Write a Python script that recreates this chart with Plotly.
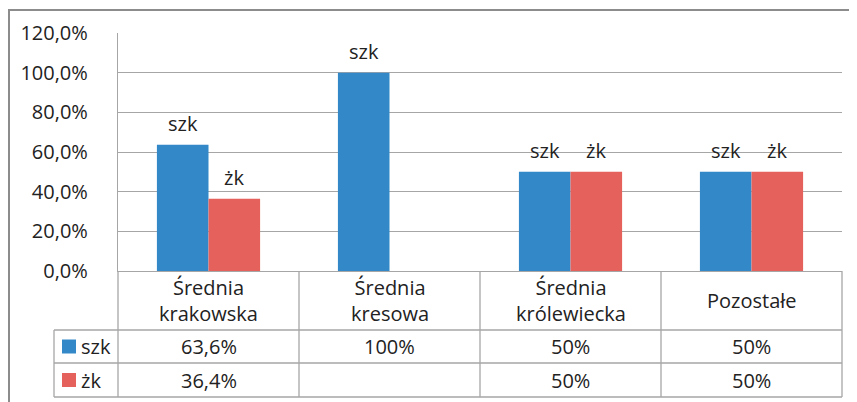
import plotly.graph_objects as go

# data
categories = ["Średnia<br>krakowska", "Średnia<br>kresowa", "Średnia<br>królewiecka", "Pozostałe"]
series_names = ["szk", "żk"]
szk_values = [63.6, 100, 50, 50]
zk_values = [36.4, None, 50, 50]
colors = ["#3389C7", "#E5625C"]

# page is rendered with an 8px body margin, so work in page px and shift
OFF = 8
W, H = 857 - OFF, 402 - OFF
L, R, T, B = 118, 842, 33, 271  # plot area in page px


def px_x(x):
    return (x - L) / (R - L)


def px_y(y):
    return (B - y) / (B - T)


def fmt(v):
    if v is None:
        return ""
    if float(v).is_integer():
        return "%d%%" % v
    return ("%.1f%%" % v).replace(".", ",")


FONT = "'Open Sans', sans-serif"
FS = 20
TXT = "#222222"
GRID = "#A6A6A6"

fig = go.Figure()
all_values = [szk_values, zk_values]
for name, vals, col in zip(series_names, all_values, colors):
    fig.add_trace(go.Bar(
        x=categories,
        y=[None if v is None else v / 100 for v in vals],
        name=name,
        marker=dict(color=col, line=dict(width=0)),
        showlegend=False,
    ))

annotations = []
shapes = []

# series name labels above bars
for k, (name, vals) in enumerate(zip(series_names, all_values)):
    off = (-0.5 + k) * 51.5
    for cat, v in zip(categories, vals):
        if v is None:
            continue
        annotations.append(dict(
            x=cat, xref="x", y=v / 100, yref="y", xshift=off, yshift=6,
            text=name, showarrow=False, xanchor="center", yanchor="bottom",
            font=dict(family=FONT, size=FS, color=TXT),
        ))

# data table
rows_px = [B, 330, 363, 397]
line = dict(color=GRID, width=1.3)
n = len(categories)
for i in range(n + 1):
    shapes.append(dict(type="line", xref="paper", yref="paper",
                       x0=i / n, x1=i / n, y0=px_y(B), y1=px_y(rows_px[-1]), line=line))
shapes.append(dict(type="line", xref="paper", yref="paper",
                   x0=px_x(54), x1=px_x(54), y0=px_y(rows_px[1]), y1=px_y(rows_px[-1]), line=line))
for y in rows_px[1:]:
    shapes.append(dict(type="line", xref="paper", yref="paper",
                       x0=px_x(54), x1=1, y0=px_y(y), y1=px_y(y), line=line))

# header row text
for i, cat in enumerate(categories):
    annotations.append(dict(
        x=(i + 0.5) / n, xref="paper", y=px_y((rows_px[0] + rows_px[1]) / 2), yref="paper",
        text=cat, showarrow=False, xanchor="center", yanchor="middle",
        font=dict(family=FONT, size=FS, color=TXT),
    ))

# value rows with legend keys
for r, (name, vals, col) in enumerate(zip(series_names, all_values, colors)):
    yc = px_y((rows_px[r + 1] + rows_px[r + 2]) / 2)
    shapes.append(dict(type="rect", xref="paper", yref="paper",
                       x0=px_x(62), x1=px_x(76), y0=yc - 7 / (B - T), y1=yc + 7 / (B - T),
                       fillcolor=col, line=dict(width=0)))
    annotations.append(dict(
        x=px_x(79), xref="paper", y=yc, yref="paper", xanchor="left", yanchor="middle",
        text=name, showarrow=False, font=dict(family=FONT, size=FS, color=TXT),
    ))
    for i, v in enumerate(vals):
        annotations.append(dict(
            x=(i + 0.5) / n, xref="paper", y=yc, yref="paper",
            xanchor="center", yanchor="middle",
            text=fmt(v), showarrow=False, font=dict(family=FONT, size=FS, color=TXT),
        ))

# outer chart border
shapes.append(dict(type="rect", xref="paper", yref="paper",
                   x0=px_x(OFF + 1), x1=px_x(900), y0=px_y(440), y1=px_y(10),
                   line=dict(color="#8C8C8C", width=2), fillcolor="rgba(0,0,0,0)", layer="below"))

fig.update_layout(
    width=W, height=H,
    margin=dict(l=L - OFF, r=W - (R - OFF), t=T - OFF, b=H - (B - OFF)),
    paper_bgcolor="white", plot_bgcolor="white",
    separators=", ",
    barmode="group", bargap=0.43, bargroupgap=0,
    font=dict(family=FONT, size=FS, color=TXT),
    xaxis=dict(showticklabels=False, showline=True, linecolor=GRID, linewidth=1.3,
               showgrid=False, zeroline=False, fixedrange=True),
    yaxis=dict(range=[0, 1.2], dtick=0.2, tickformat=".1%", showline=True,
               linecolor=GRID, linewidth=1.3, gridcolor=GRID, gridwidth=1.3,
               zeroline=False, ticklabelstandoff=25,
               tickfont=dict(family=FONT, size=FS, color=TXT)),
    annotations=annotations,
    shapes=shapes,
)

fig.write_html("out.html")
